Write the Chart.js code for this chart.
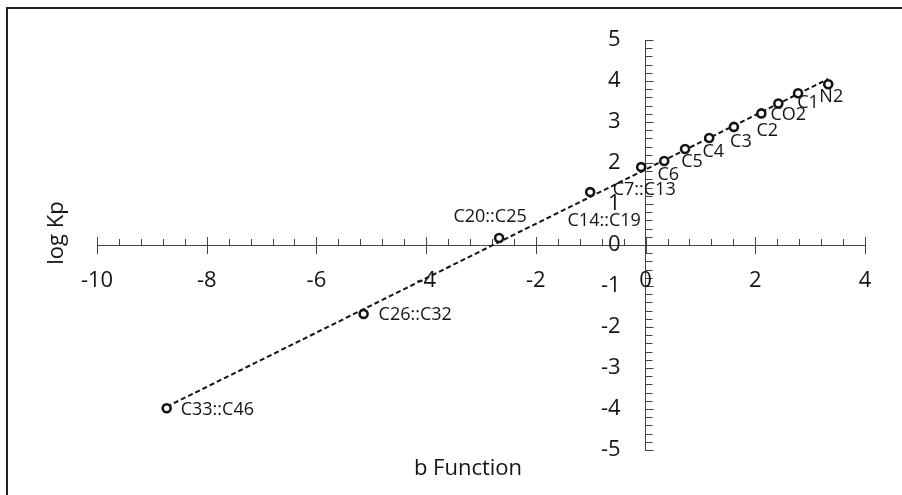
<!DOCTYPE html>
<html>
<head>
<meta charset="utf-8">
<title>log Kp vs b Function</title>
<script src="https://cdn.jsdelivr.net/npm/chart.js@4.4.0/dist/chart.umd.min.js"></script>
<style>
    html, body { margin: 0; padding: 0; background: #fff; }
    #wrap { position: relative; width: 902px; height: 495px; overflow: hidden; }
    #frame {
        position: absolute; left: 6px; top: 7px; right: -10px; bottom: -10px;
        border-left: 2px solid #222; border-top: 2px solid #222;
        pointer-events: none;
    }
</style>
</head>
<body>
<div id="wrap">
    <canvas id="kpChart" width="902" height="495"></canvas>
    <div id="frame"></div>
</div>
<script>
// Components and their values
const components = ['N2', 'C1', 'CO2', 'C2', 'C3', 'C4', 'C5', 'C6',
                    'C7::C13', 'C14::C19', 'C20::C25', 'C26::C32', 'C33::C46'];
const bValues = [3.33, 2.78, 2.42, 2.11, 1.61, 1.16, 0.72, 0.34, -0.08, -1.01, -2.67, -5.14, -8.73];
const logKp   = [3.92, 3.70, 3.45, 3.21, 2.88, 2.61, 2.34, 2.05, 1.90, 1.29, 0.17, -1.68, -3.98];

// Tick labels
const xTickLabels = [-10, -8, -6, -4, -2, 0, 2, 4];
const yTickLabels = [5, 4, 3, 2, 1, 0, -1, -2, -3, -4, -5];

// Where each point label sits relative to its marker [dx, dy, align]
const labelPlacement = [
    [3, 13, 'center'], [10, 10, 'center'], [10, 11, 'center'], [6, 17, 'center'],
    [7, 15, 'center'], [4, 14, 'center'], [7, 13, 'center'], [4, 14, 'center'],
    [3, 23, 'center'], [14, 29, 'center'], [-9, -21, 'center'],
    [15, 1, 'left'], [14, 2, 'left']
];

const FONT = '"Open Sans", Lato, sans-serif';
const INK = '#141414';

// Least squares trendline through the points
function linearFit(xs, ys) {
    const n = xs.length;
    const mx = xs.reduce((a, b) => a + b, 0) / n;
    const my = ys.reduce((a, b) => a + b, 0) / n;
    let sxy = 0, sxx = 0;
    for (let i = 0; i < n; i++) {
        sxy += (xs[i] - mx) * (ys[i] - my);
        sxx += (xs[i] - mx) * (xs[i] - mx);
    }
    const slope = sxy / sxx;
    return { slope: slope, intercept: my - slope * mx };
}

const fit = linearFit(bValues, logKp);
const xLo = Math.min(...bValues), xHi = Math.max(...bValues);
const trendPoints = [
    { x: xLo, y: fit.intercept + fit.slope * xLo },
    { x: xHi, y: fit.intercept + fit.slope * xHi }
];

const axisDecor = {
    id: 'axisDecor',
    beforeDatasetsDraw(chart) {
        const ctx = chart.ctx;
        const x = chart.scales.x, y = chart.scales.y;
        const x0 = x.getPixelForValue(0), y0 = y.getPixelForValue(0);
        ctx.save();
        ctx.strokeStyle = '#444';
        ctx.lineWidth = 1;
        ctx.beginPath();
        // x axis: minor every 0.4, major every 2
        for (let i = 0; i <= 35; i++) {
            const px = Math.round(x.getPixelForValue(-10 + i * 0.4)) + 0.5;
            const major = i % 5 === 0;
            ctx.moveTo(px, y0 - (major ? 8 : 6));
            ctx.lineTo(px, y0 + (major ? 9 : 0));
        }
        // y axis: minor every 0.2
        for (let i = 0; i <= 50; i++) {
            const py = Math.round(y.getPixelForValue(-5 + i * 0.2)) + 0.5;
            ctx.moveTo(x0, py);
            ctx.lineTo(x0 + (i % 5 === 0 ? 8 : 7), py);
        }
        ctx.stroke();
        ctx.restore();
    },
    afterDraw(chart) {
        const ctx = chart.ctx;
        const x = chart.scales.x, y = chart.scales.y;
        const x0 = x.getPixelForValue(0), y0 = y.getPixelForValue(0);
        ctx.save();
        ctx.fillStyle = INK;

        // tick labels
        ctx.font = '22px ' + FONT;
        ctx.textBaseline = 'middle';
        ctx.textAlign = 'center';
        xTickLabels.forEach(v => {
            ctx.fillText(String(v), x.getPixelForValue(v), y0 + 36);
        });
        ctx.textAlign = 'right';
        yTickLabels.forEach(v => {
            ctx.fillText(String(v), x0 - 25, y.getPixelForValue(v));
        });

        // point labels
        const meta = chart.getDatasetMeta(0);
        ctx.font = '18px ' + FONT;
        meta.data.forEach((pt, i) => {
            const p = labelPlacement[i];
            ctx.textAlign = p[2];
            ctx.fillText(components[i], pt.x + p[0], pt.y + p[1]);
        });

        // axis titles
        ctx.font = '22px ' + FONT;
        ctx.textAlign = 'center';
        ctx.fillText('b Function', 468, 469);
        ctx.translate(57, 233);
        ctx.rotate(-Math.PI / 2);
        ctx.fillText('log Kp', 0, 0);
        ctx.restore();
    }
};

const ctx = document.getElementById('kpChart').getContext('2d');
const kpChart = new Chart(ctx, {
    type: 'scatter',
    data: {
        datasets: [{
            label: 'log Kp',
            data: bValues.map((b, i) => ({ x: b, y: logKp[i] })),
            pointStyle: 'circle',
            pointRadius: 4,
            pointBorderWidth: 2.6,
            pointBorderColor: INK,
            pointBackgroundColor: '#fff',
            showLine: false
        }, {
            label: 'Trend',
            data: trendPoints,
            showLine: true,
            borderColor: INK,
            borderWidth: 2,
            borderDash: [5, 3],
            pointRadius: 0,
            fill: false
        }]
    },
    options: {
        responsive: false,
        animation: false,
        layout: {
            padding: { left: 97, right: 37, top: 40, bottom: 45 }
        },
        plugins: {
            legend: { display: false },
            tooltip: { enabled: false }
        },
        scales: {
            x: {
                type: 'linear',
                min: -10,
                max: 4,
                position: { y: 0 },
                grid: { display: false, drawTicks: false },
                ticks: { display: false },
                border: { display: true, color: '#444', width: 1 }
            },
            y: {
                type: 'linear',
                min: -5,
                max: 5,
                position: { x: 0 },
                grid: { display: false, drawTicks: false },
                ticks: { display: false },
                border: { display: true, color: '#444', width: 1 }
            }
        }
    },
    plugins: [axisDecor]
});
</script>
</body>
</html>
